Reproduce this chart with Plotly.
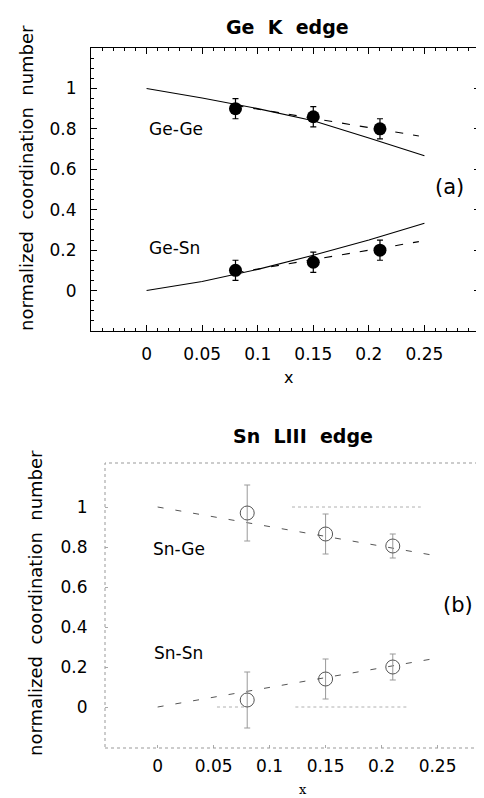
import plotly.graph_objects as go

# ---------- data: panel (a) Ge K edge ----------
x_pts = [0.08, 0.15, 0.21]
gege_y = [0.90, 0.86, 0.80]
gege_err = [0.05, 0.05, 0.05]
gesn_y = [0.10, 0.14, 0.20]
gesn_err = [0.05, 0.05, 0.05]

model_x = [0.0, 0.05, 0.10, 0.15, 0.20, 0.25]
gege_model = [1.0, 0.953, 0.90, 0.84, 0.755, 0.667]
gesn_model = [0.0, 0.045, 0.105, 0.175, 0.25, 0.333]

fit_x_a = [0.08, 0.245]
gege_fit = [0.916, 0.765]
gesn_fit = [0.088, 0.242]

# ---------- data: panel (b) Sn LIII edge ----------
snge_y = [0.97, 0.865, 0.805]
snge_err = [0.14, 0.10, 0.06]
snsn_y = [0.035, 0.14, 0.20]
snsn_err = [0.14, 0.10, 0.065]

fit_x_b = [0.0, 0.25]
snge_fit = [1.0, 0.755]
snsn_fit = [0.0, 0.245]

# faint dotted guide segments visible in panel (b)
guide_one_x = [0.12, 0.235]
guide_one_y = [1.0, 1.0]
guide_zero1_x = [0.053, 0.079]
guide_zero2_x = [0.123, 0.223]
guide_zero_y = [0.0, 0.0]

x_ticks = [0, 0.05, 0.10, 0.15, 0.20, 0.25]
x_ticktext = ["0", "0.05", "0.1", "0.15", "0.2", "0.25"]
y_ticks = [0, 0.2, 0.4, 0.6, 0.8, 1.0]
y_ticktext = ["0", "0.2", "0.4", "0.6", "0.8", "1"]

FONT = "DejaVu Sans, Liberation Sans, sans-serif"
W, H = 484, 798
OFF = 8  # page body margin


def fx(px):
    return (px - OFF) / W


def fy(py):
    return 1 - (py - OFF) / H


fig = go.Figure()

# panel (a)
fig.add_trace(go.Scatter(x=model_x, y=gege_model, mode="lines",
                         line=dict(color="black", width=1.1), xaxis="x", yaxis="y"))
fig.add_trace(go.Scatter(x=model_x, y=gesn_model, mode="lines",
                         line=dict(color="black", width=1.1), xaxis="x", yaxis="y"))
fig.add_trace(go.Scatter(x=fit_x_a, y=gege_fit, mode="lines",
                         line=dict(color="black", width=1.1, dash="8px,10px"), xaxis="x", yaxis="y"))
fig.add_trace(go.Scatter(x=fit_x_a, y=gesn_fit, mode="lines",
                         line=dict(color="black", width=1.1, dash="8px,10px"), xaxis="x", yaxis="y"))
for yy, ee in [(gege_y, gege_err), (gesn_y, gesn_err)]:
    fig.add_trace(go.Scatter(x=x_pts, y=yy, mode="markers",
                             marker=dict(symbol="circle", size=13, color="black"),
                             error_y=dict(type="data", array=ee, color="black", thickness=1.2, width=3),
                             xaxis="x", yaxis="y"))

# panel (b)
fig.add_trace(go.Scatter(x=guide_one_x, y=guide_one_y, mode="lines",
                         line=dict(color="#b0b0b0", width=1, dash="dot"), xaxis="x2", yaxis="y2"))
for gx in [guide_zero1_x, guide_zero2_x]:
    fig.add_trace(go.Scatter(x=gx, y=guide_zero_y, mode="lines",
                             line=dict(color="#b0b0b0", width=1, dash="dot"), xaxis="x2", yaxis="y2"))
fig.add_trace(go.Scatter(x=fit_x_b, y=snge_fit, mode="lines",
                         line=dict(color="#555", width=1, dash="6px,12px"), xaxis="x2", yaxis="y2"))
fig.add_trace(go.Scatter(x=fit_x_b, y=snsn_fit, mode="lines",
                         line=dict(color="#555", width=1, dash="6px,12px"), xaxis="x2", yaxis="y2"))
for yy, ee in [(snge_y, snge_err), (snsn_y, snsn_err)]:
    fig.add_trace(go.Scatter(x=x_pts, y=yy, mode="markers",
                             marker=dict(symbol="circle-open", size=14, color="#555",
                                         line=dict(width=1, color="#555")),
                             error_y=dict(type="data", array=ee, color="#999", thickness=1, width=3),
                             xaxis="x2", yaxis="y2"))

dom_xa = [fx(91), fx(480)]
dom_ya = [fy(331), fy(48)]
dom_xb = [fx(105), fx(479)]
dom_yb = [fy(748), fy(463)]

tickfont = dict(family=FONT, size=17, color="black")

fig.update_layout(
    width=W, height=H, margin=dict(l=0, r=0, t=0, b=0),
    paper_bgcolor="white", plot_bgcolor="white", showlegend=False,
    font=dict(family=FONT, color="black"),
    xaxis=dict(domain=dom_xa, range=[-0.05, 0.30], anchor="y",
               tickmode="array", tickvals=x_ticks, ticktext=x_ticktext,
               ticks="inside", ticklen=6, tickcolor="black", tickwidth=1,
               showline=True, linecolor="black", linewidth=1, mirror="allticks",
               showgrid=False, zeroline=False, tickfont=tickfont, ticklabelstandoff=8,
               minor=dict(dtick=0.01, tick0=0, ticks="inside", ticklen=3, tickcolor="black")),
    yaxis=dict(domain=dom_ya, range=[-0.2, 1.2], anchor="x",
               tickmode="array", tickvals=y_ticks, ticktext=y_ticktext,
               ticks="inside", ticklen=6, tickcolor="black", tickwidth=1,
               showline=True, linecolor="black", linewidth=1, mirror="allticks",
               showgrid=False, zeroline=False, tickfont=tickfont, ticklabelstandoff=10,
               minor=dict(dtick=0.05, tick0=0, ticks="inside", ticklen=3, tickcolor="black")),
    xaxis2=dict(domain=dom_xb, range=[-0.047, 0.287], anchor="y2",
                tickmode="array", tickvals=x_ticks, ticktext=x_ticktext,
                ticks="inside", ticklen=3, tickcolor="#aaa", tickwidth=1,
                showline=True, linecolor="rgba(0,0,0,0)",
                showgrid=False, zeroline=False, tickfont=tickfont,
                ticklabelstandoff=3),
    yaxis2=dict(domain=dom_yb, range=[-0.205, 1.22], anchor="x2",
                tickmode="array", tickvals=y_ticks, ticktext=y_ticktext,
                ticks="inside", ticklen=3, tickcolor="#aaa", tickwidth=1,
                showline=True, linecolor="rgba(0,0,0,0)",
                showgrid=False, zeroline=False, tickfont=tickfont,
                ticklabelstandoff=13),
    shapes=[dict(type="rect", xref="x2 domain", yref="y2 domain", x0=0, x1=1, y0=0, y1=1,
                 line=dict(color="#999", width=1, dash="dot"))],
)

ann = []
# titles
ann.append(dict(text="<b>Ge  K  edge</b>", xref="paper", yref="paper", x=fx(287), y=fy(27),
                showarrow=False, font=dict(size=19, family=FONT), xanchor="center", yanchor="middle"))
ann.append(dict(text="<b>Sn  LIII  edge</b>", xref="paper", yref="paper", x=fx(303), y=fy(436),
                showarrow=False, font=dict(size=19, family=FONT), xanchor="center", yanchor="middle"))
# y titles
ann.append(dict(text="normalized  coordination  number", xref="paper", yref="paper",
                x=fx(27), y=fy(178), textangle=-90, showarrow=False,
                font=dict(size=18, family=FONT), xanchor="center", yanchor="middle"))
ann.append(dict(text="normalized  coordination  number", xref="paper", yref="paper",
                x=fx(35), y=fy(603), textangle=-90, showarrow=False,
                font=dict(size=18, family=FONT), xanchor="center", yanchor="middle"))
# x titles
ann.append(dict(text="x", xref="paper", yref="paper", x=fx(288), y=fy(378),
                showarrow=False, font=dict(size=16, family=FONT), xanchor="center", yanchor="middle"))
ann.append(dict(text="x", xref="paper", yref="paper", x=fx(303), y=fy(789),
                showarrow=False, font=dict(size=13, family="DejaVu Serif"), xanchor="center", yanchor="middle"))
# series labels
for txt, xx, yy, xr, yr in [("Ge-Ge", 0.0, 0.80, "x", "y"), ("Ge-Sn", 0.0, 0.21, "x", "y"),
                            ("Sn-Ge", -0.006, 0.79, "x2", "y2"), ("Sn-Sn", -0.005, 0.27, "x2", "y2")]:
    ann.append(dict(text=txt, x=xx, y=yy, xref=xr, yref=yr, showarrow=False,
                    font=dict(size=17, family=FONT), xanchor="left", yanchor="middle"))
ann.append(dict(text="(a)", x=0.273, y=0.51, xref="x", yref="y", showarrow=False,
                font=dict(size=21, family=FONT), xanchor="center", yanchor="middle"))
ann.append(dict(text="(b)", x=0.268, y=0.51, xref="x2", yref="y2", showarrow=False,
                font=dict(size=21, family=FONT), xanchor="center", yanchor="middle"))
fig.update_layout(annotations=ann)

fig.write_html("out.html")
